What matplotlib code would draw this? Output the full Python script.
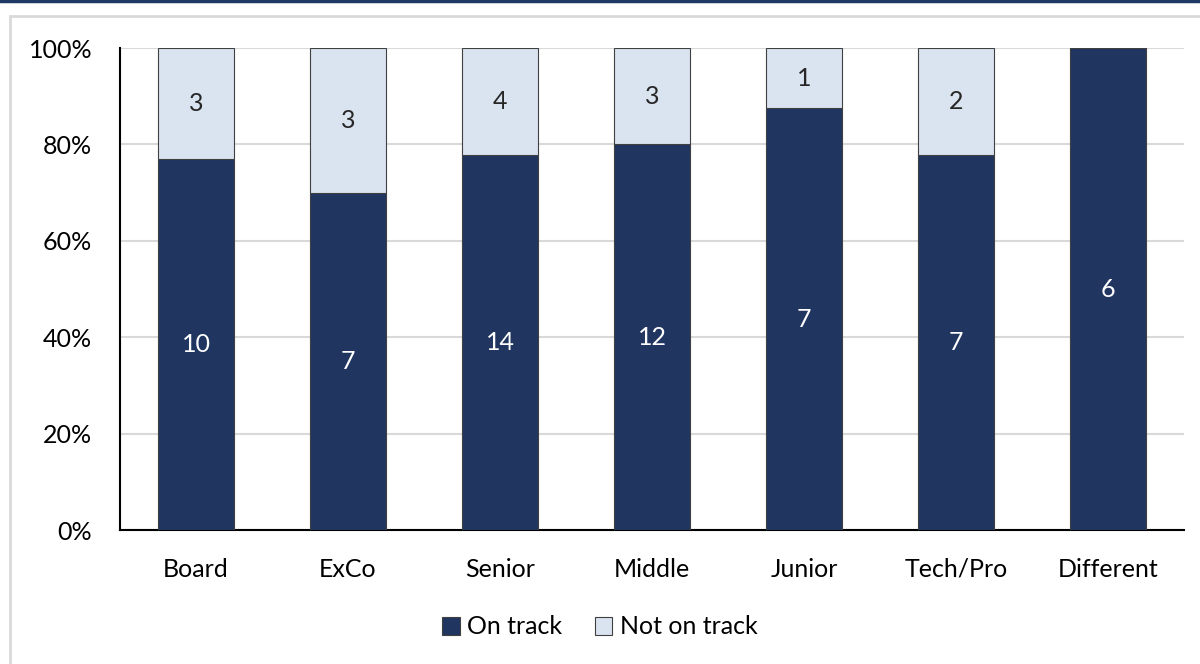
import numpy as np
import matplotlib
matplotlib.use('Agg')
import matplotlib.pyplot as plt
from matplotlib.patches import Rectangle
from matplotlib.ticker import PercentFormatter

plt.rcParams['font.family'] = ['Lato', 'DejaVu Sans']

categories = ['Board', 'ExCo', 'Senior', 'Middle', 'Junior', 'Tech/Pro', 'Different']
on_track = [10, 7, 14, 12, 7, 7, 6]
not_on_track = [3, 3, 4, 3, 1, 2, 0]

dark = '#203560'
light = '#dae3f0'

on = np.array(on_track, dtype=float)
off = np.array(not_on_track, dtype=float)
total = on + off
on_pct = on / total * 100
off_pct = off / total * 100

fig = plt.figure(figsize=(12, 6.64), dpi=100, facecolor='white')
# outer frame and top rule
fig.patches.append(Rectangle((10 / 1200, -0.1), 1.2, 1 - 16 / 664 + 0.1, transform=fig.transFigure,
                             fill=False, edgecolor='#d9d9d9', linewidth=2))
fig.add_artist(plt.Line2D([0, 1], [0.999, 0.999], transform=fig.transFigure, color='#1f3864', linewidth=2.5))

ax = fig.add_axes([0.1, 0.2018, 0.8867, 0.7259])
x = np.arange(len(categories))
b1 = ax.bar(x, on_pct, width=0.5, color=dark, edgecolor='#404040', linewidth=0.8, label='On track', zorder=3)
b2 = ax.bar(x, off_pct, width=0.5, bottom=on_pct, color=light, edgecolor='#404040', linewidth=0.8,
            label='Not on track', zorder=3)

fs = 18
for i in range(len(categories)):
    if on[i] > 0:
        ax.text(x[i], on_pct[i] / 2, f'{int(on[i])}', ha='center', va='center', color='white', fontsize=fs, zorder=4)
    if off[i] > 0:
        ax.text(x[i], on_pct[i] + off_pct[i] / 2, f'{int(off[i])}', ha='center', va='center', color='#262626',
                fontsize=fs, zorder=4)

ax.set_xlim(-0.5, len(categories) - 0.5)
ax.set_ylim(0, 100)
ax.set_yticks(np.arange(0, 101, 20))
ax.yaxis.set_major_formatter(PercentFormatter(decimals=0))
ax.set_xticks(x)
ax.set_xticklabels(categories)
ax.tick_params(axis='both', length=0, labelsize=fs, colors='black')
ax.tick_params(axis='y', pad=20)
ax.tick_params(axis='x', pad=20)
ax.grid(axis='y', color='#d9d9d9', linewidth=1.5, zorder=0)
for s in ['top', 'right']:
    ax.spines[s].set_visible(False)
ax.spines['left'].set_color('black')
ax.spines['bottom'].set_color('black')
ax.spines['left'].set_linewidth(1.5)
ax.spines['bottom'].set_linewidth(1.5)

fig.legend(handles=[b1, b2], loc='center', bbox_to_anchor=(0.5, 1 - 627 / 664), ncol=2, frameon=False,
           fontsize=fs, handlelength=0.7, handleheight=0.7, handletextpad=0.3, columnspacing=1.3)

fig.savefig('out.png', dpi=100, facecolor='white')
